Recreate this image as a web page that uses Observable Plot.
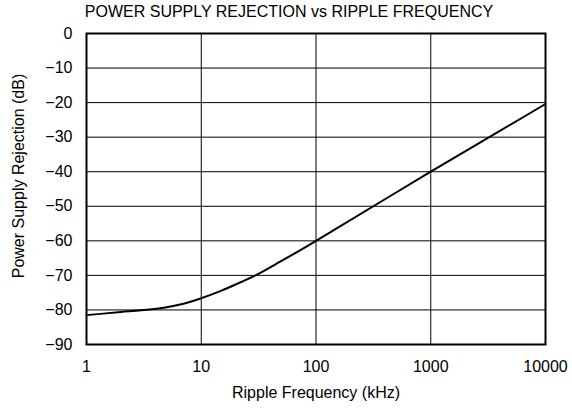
<!DOCTYPE html>
<html>
<head>
<meta charset="utf-8">
<script src="https://cdn.jsdelivr.net/npm/d3@7"></script>
<script src="https://cdn.jsdelivr.net/npm/@observablehq/plot@0.6"></script>
<style>
  body { margin: 0; background: #fff; font-family: "Liberation Sans", Arial, sans-serif; }
  #title { height: 24px; line-height: 24px; width: 572px; text-align: center; font-size: 16px; color: #000; padding-left: 6px; box-sizing: border-box; white-space: nowrap; }
</style>
</head>
<body>
<div id="title">POWER SUPPLY REJECTION vs RIPPLE FREQUENCY</div>
<div id="chart"></div>
<script>
const freq = [1, 2, 3, 5, 7, 10, 15, 20, 30, 50, 70, 100, 1000, 10000];
const psr  = [-81.5, -80.6, -80.1, -79.2, -78.2, -76.6, -74.4, -72.6, -69.9, -65.8, -63.05, -60.0, -40.0, -20.4];
const xTicks = [1, 10, 100, 1000, 10000];
const yTicks = [0, -10, -20, -30, -40, -50, -60, -70, -80, -90];
const xLabel = "Ripple Frequency (kHz)";
const yLabel = "Power Supply Rejection (dB)";

const data = freq.map((f, i) => ({f, v: psr[i]}));

const chart = Plot.plot({
  width: 572,
  height: 385,
  marginLeft: 86,
  marginRight: 27,
  marginTop: 9,
  marginBottom: 65,
  style: {fontFamily: '"Liberation Sans", Arial, sans-serif', fontSize: "16px", color: "#000", background: "#fff"},
  x: {type: "log", domain: [1, 10000], ticks: xTicks, tickFormat: d3.format("d")},
  y: {domain: [-90, 0], ticks: yTicks},
  marks: [
    Plot.gridX(xTicks, {stroke: "#000", strokeOpacity: 1, strokeWidth: 1}),
    Plot.gridY(yTicks, {stroke: "#000", strokeOpacity: 1, strokeWidth: 1}),
    Plot.axisX(xTicks, {tickSize: 0, tickPadding: 16, tickFormat: d3.format("d"), fontSize: 16, label: null}),
    Plot.axisY(yTicks, {tickSize: 0, tickPadding: 14, fontSize: 16, label: null}),
    Plot.text([xLabel], {text: d => d, frameAnchor: "bottom", lineAnchor: "middle", dy: 48, fontSize: 16, fill: "#000"}),
    Plot.text([yLabel], {text: d => d, frameAnchor: "left", rotate: -90, textAnchor: "middle", lineAnchor: "middle", dx: -68, dy: -13, fontSize: 16, fill: "#000"}),
    Plot.line(data, {x: "f", y: "v", stroke: "#000", strokeWidth: 2, curve: "catmull-rom"}),
    Plot.frame({stroke: "#000", strokeWidth: 2})
  ]
});
document.getElementById("chart").appendChild(chart);
</script>
</body>
</html>
